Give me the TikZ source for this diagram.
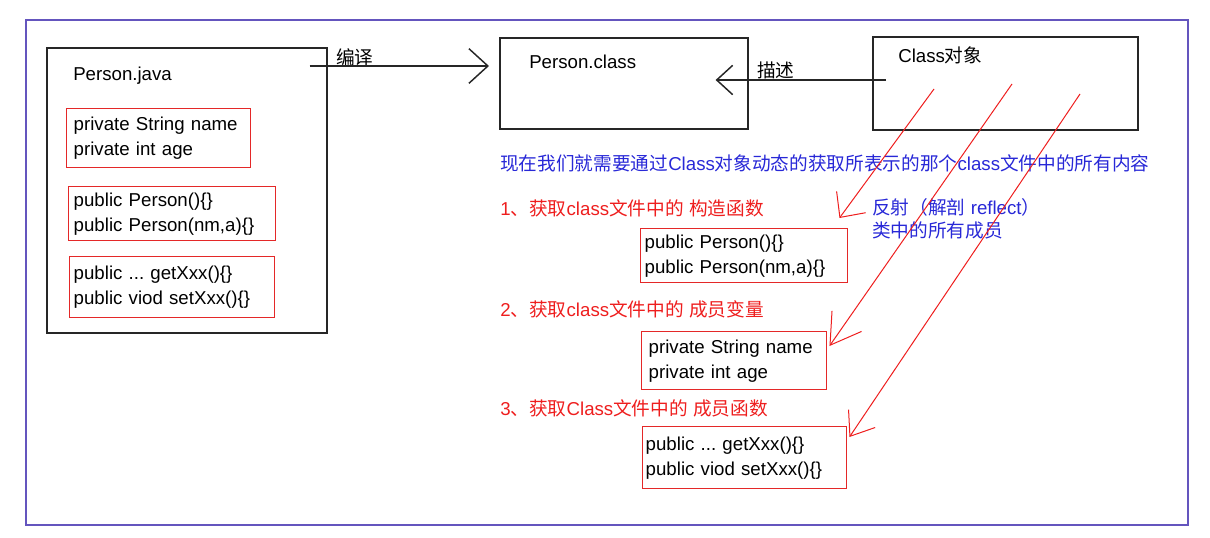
\documentclass[tikz,border=0pt]{standalone}
\usepackage{fontspec}
\setmainfont{Liberation Sans}
\newfontfamily\cjk{Noto Sans CJK SC}
\usetikzlibrary{arrows.meta,calc}
\definecolor{framec}{RGB}{100,85,190}
\definecolor{bluet}{RGB}{40,40,215}
\definecolor{redt}{RGB}{238,30,30}
\definecolor{redb}{RGB}{228,40,40}
\frenchspacing
\begin{document}
\begin{tikzpicture}[x=0.75pt,y=-0.75pt,
  every node/.style={font=\fontsize{14}{18.75}\selectfont, inner sep=0pt},
  blackbox/.style={draw=black!85, line width=1.2pt, anchor=north west},
  codebox/.style={draw=redb, line width=1.1pt, anchor=north west, align=left, inner ysep=0pt},
  txt/.style={anchor=base west},
  bluetext/.style={anchor=base west, text=bluet},
  redtext/.style={anchor=base west, text=redt},
  darrow/.style={draw=black!85, line width=1.1pt},
  rarrow/.style={draw=redt, line width=0.75pt}]
\useasboundingbox (0,0) rectangle (1210,538);
\draw[framec, line width=1.5pt] (26,20) rectangle (1188,525);

% big boxes
\node[blackbox, minimum width=210pt, minimum height=213.75pt] (java) at (46,47) {};
\node[blackbox, minimum width=186pt, minimum height=68.25pt] (pclass) at (499,37) {};
\node[blackbox, minimum width=198.75pt, minimum height=69.75pt] (cobj) at (872,36) {};

\node[txt] (javat) at (73,81) {Person.java};
\node[txt] (classt) at (529,69) {Person.class};
\node[txt] (objt) at (898,63) {Class{\cjk 对象}};

% left code boxes
\node[codebox, text width=127.5pt, inner xsep=5.25pt, minimum height=44.25pt] (jf) at (66,108) {private String name\\private int age};
\node[codebox, text width=147.75pt, inner xsep=3.75pt, minimum height=40.5pt] (jc) at (68,186) {public Person()\{\}\\public Person(nm,a)\{\}};
\node[codebox, text width=147.75pt, inner xsep=3pt, minimum height=45.75pt] (jm) at (69,256) {public ... getXxx()\{\}\\public viod setXxx()\{\}};

% right code boxes
\node[codebox, text width=149.25pt, inner xsep=3pt, minimum height=40.5pt] (rc) at (640,228) {public Person()\{\}\\public Person(nm,a)\{\}};
\node[codebox, text width=128.25pt, inner xsep=5.25pt, minimum height=43.5pt] (rf) at (641,331) {private String name\\private int age};
\node[codebox, text width=148.5pt, inner xsep=2.25pt, minimum height=46.5pt] (rm) at (642,426) {public ... getXxx()\{\}\\public viod setXxx()\{\}};

% labels
\node[anchor=west] (bianyi) at (336,57) {\cjk 编译};
\node[anchor=west] (miaoshu) at (757,70.5) {\cjk 描述};
\node[bluetext] (intro) at (500,171) {{\cjk 现在我们就需要通过}Class{\cjk 对象动态的获取所表示的那个}class{\cjk 文件中的所有内容}};
\node[redtext] (item1) at (500,216) {1{\cjk 、获取}class{\cjk 文件中的} {\cjk 构造函数}};
\node[redtext] (item2) at (500,316) {2{\cjk 、获取}class{\cjk 文件中的} {\cjk 成员变量}};
\node[redtext] (item3) at (500,415) {3{\cjk 、获取}Class{\cjk 文件中的} {\cjk 成员函数}};
\node[bluetext] (refl) at (872,215) {{\cjk 反射（解剖} reflect{\cjk ）}};
\node[bluetext] (refl2) at (872,238) {\cjk 类中的所有成员};

% black arrows
\coordinate (cs) at ($(java.north east)+(-18,19)$);
\coordinate (ce) at ($(pclass.north west)+(-10,29)$);
\draw[darrow, -{Straight Barb[length=14.25pt,width=26pt]}] (cs) -- (ce);
\coordinate (ds) at ($(cobj.north west)+(14,44)$);
\coordinate (de) at ($(pclass.north east)+(-33,43)$);
\draw[darrow, -{Straight Barb[length=12pt,width=22pt]}] (ds) -- (de);

% red arrows
\coordinate (s1) at ($(cobj.north west)+(62,53)$);
\coordinate (t1) at ($(rc.north east)+(-9,-10)$);
\coordinate (s2) at ($(cobj.north west)+(140,48)$);
\coordinate (t2) at ($(rf.north east)+(2,15)$);
\coordinate (s3) at ($(cobj.north west)+(208,58)$);
\coordinate (t3) at ($(rm.north east)+(2,11)$);
\draw[rarrow, -{Straight Barb[length=14.25pt,width=27pt]}] (s1) -- (t1);
\draw[rarrow, -{Straight Barb[length=22pt,width=27pt]}] (s2) -- (t2);
\draw[rarrow, -{Straight Barb[length=16pt,width=24pt]}] (s3) -- (t3);
\end{tikzpicture}
\end{document}
